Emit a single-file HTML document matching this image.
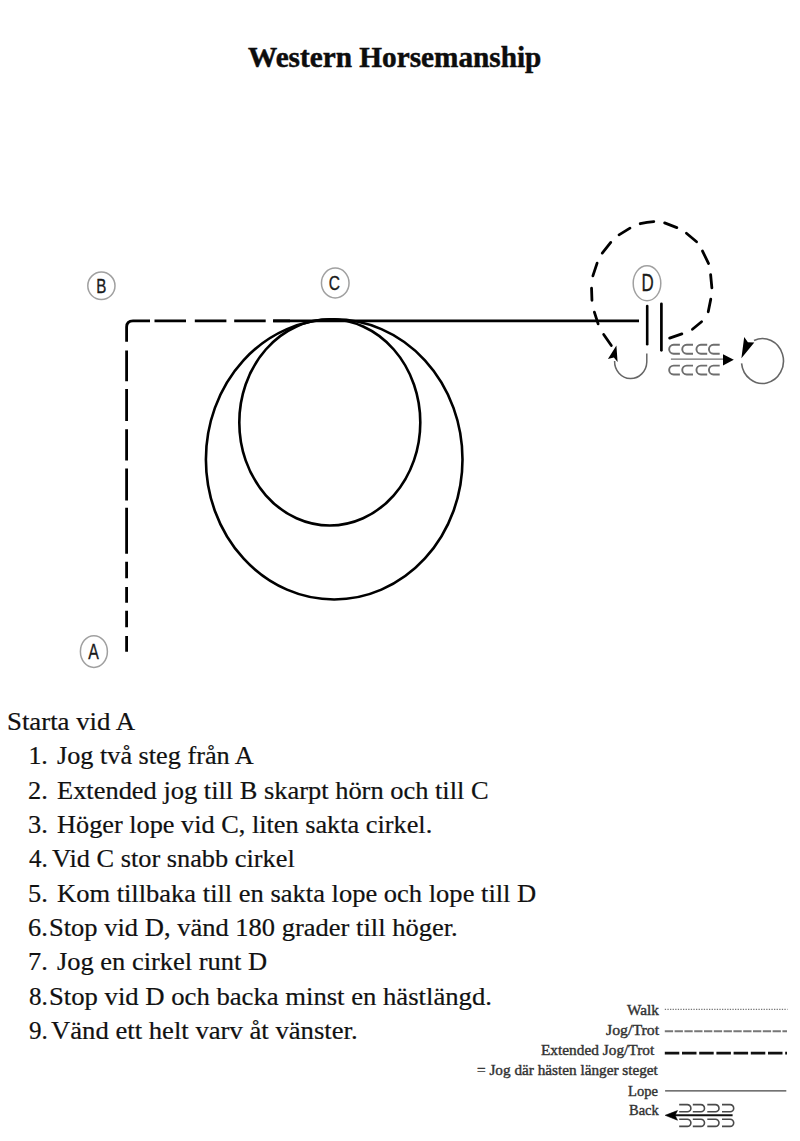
<!DOCTYPE html>
<html><head><meta charset="utf-8">
<style>
html,body{margin:0;padding:0;background:#fff;}
body{width:800px;height:1141px;overflow:hidden;position:relative;}
svg{position:absolute;left:0;top:0;}
.serif{font-family:"Liberation Serif",serif;}
.sans{font-family:"Liberation Sans",sans-serif;}
</style></head>
<body>
<svg width="800" height="1141" viewBox="0 0 800 1141">
  <!-- Letter markers -->
  <g fill="none" stroke="#a0a0a0" stroke-width="1.5">
    <ellipse cx="101.4" cy="285.8" rx="13.6" ry="13.7"/>
    <ellipse cx="335.25" cy="283" rx="13.8" ry="15"/>
    <ellipse cx="647" cy="283.25" rx="13.8" ry="17.5"/>
    <ellipse cx="93.9" cy="651.6" rx="13.5" ry="15.9"/>
  </g>
  <g class="sans" fill="#1a1a1a" stroke="#1a1a1a" stroke-width="0.35">
    <text font-size="20.5" transform="translate(96.2 293.3) scale(0.74 1)">B</text>
    <text font-size="21" transform="translate(328.8 289.8) scale(0.74 1)">C</text>
    <text font-size="23.5" transform="translate(641.6 290.6) scale(0.72 1)">D</text>
    <text font-size="21.5" transform="translate(88.2 658.6) scale(0.74 1)">A</text>
  </g>

  <!-- Main path A->B->C dashed -->
  <g fill="none" stroke="#000" stroke-width="2.8" stroke-linecap="butt">
    <path d="M126.6 341.8 V327 Q126.6 320.8 133 320.8 H150"/>
    <path d="M126.6 350.5 V381.2 M126.6 389 V420.9 M126.6 429.2 V460.6 M126.6 468.5 V500.4 M126.6 507.7 V553.7 M126.6 561.8 V578.3 M126.6 587 V602.8 M126.6 610.7 V627.2 M126.6 635.9 V651.7 M154.5 320.8 H186 M194.8 320.8 H226.4 M234.2 320.8 H265.7 M273.2 320.8 H290"/>
    <line x1="273" y1="320.8" x2="639" y2="320.8"/>
  </g>
  <!-- circles -->
  <g fill="none" stroke="#000" stroke-width="2.6">
    <ellipse cx="334.2" cy="459.4" rx="128.3" ry="140.1"/>
    <ellipse cx="329.8" cy="422.4" rx="90.5" ry="103.1"/>
  </g>

  <!-- D region -->
  <g fill="none" stroke="#000" stroke-width="2.8" stroke-linecap="round">
    <line x1="647.2" y1="306" x2="647.2" y2="344.3" stroke-width="2.6" stroke-linecap="round"/>
    <line x1="661.4" y1="303.8" x2="661.4" y2="350.3" stroke-width="2.7" stroke-linecap="round"/>
    <path d="M640.2 223.7 Q647 222 653.8 221.6"/>
    <path d="M619.02 234.87 L629.98 228.13"/>
    <path d="M602.25 253.06 L610.75 242.44"/>
    <path d="M592.88 275.86 L597.12 263.14"/>
    <path d="M591.54 288.20 L591.96 300.30"/>
    <path d="M594.37 312.14 L598.13 323.86"/>
    <path d="M603.68 334.49 L611.32 345.51"/>
    <path d="M664.62 222.93 L676.88 227.57"/>
    <path d="M686.42 233.27 L696.58 241.73"/>
    <path d="M702.52 251.08 L708.48 263.42"/>
    <path d="M710.62 274.69 L711.88 287.81"/>
    <path d="M710.76 299.18 L708.24 311.82"/>
    <path d="M701.57 321.76 L692.43 329.24"/>
    <path d="M681.87 333.89 L669.63 338.11"/>
  </g>
  <polygon points="616.4,345.6 607.9,359 613.9,357.6 617.6,362" fill="#000"/>
  <path d="M614.6 361 A16.1 17 0 0 0 646.8 362 V353.6" fill="none" stroke="#666" stroke-width="1.5"/>
  <!-- CCCC -->
  <g fill="none" stroke="#6e6e6e" stroke-width="1.9">
    <path id="cc" d="M679.9 344.8 H673.6 A4.45 4.45 0 0 0 673.6 353.7 H679.9"/>
    <use href="#cc" x="13.1"/><use href="#cc" x="27.3"/><use href="#cc" x="39.8"/>
    <use href="#cc" y="20.8"/><use href="#cc" x="13.1" y="20.8"/><use href="#cc" x="27.3" y="20.8"/><use href="#cc" x="39.8" y="20.8"/>
  </g>
  <line x1="670.9" y1="359.1" x2="724" y2="359.1" stroke="#707070" stroke-width="1.4"/>
  <polygon points="723,354.2 733.8,359.8 723,365.4" fill="#000"/>
  <path d="M754.00 340.49 A21.0 22.4 0 1 1 741.57 363.34" fill="none" stroke="#666" stroke-width="1.6"/>
  <polygon points="744.2,337.1 747.9,342.2 754.3,342.6 741.4,358.3" fill="#000"/>

  <text class="serif" x="248.00" y="66.50" font-size="30" textLength="293.34" lengthAdjust="spacingAndGlyphs" font-weight="bold" fill="#0d0d0d" stroke="#0d0d0d" stroke-width="0.5">Western Horsemanship</text>
  <text class="serif" x="7.00" y="730.00" font-size="24.5" textLength="128.05" lengthAdjust="spacingAndGlyphs" fill="#111" stroke="#111" stroke-width="0.2">Starta vid A</text>
  <text class="serif" x="28.40" y="763.90" font-size="24.5" textLength="19.47" lengthAdjust="spacingAndGlyphs" fill="#111" stroke="#111" stroke-width="0.2">1.</text>
  <text class="serif" x="57.00" y="763.90" font-size="24.5" textLength="196.72" lengthAdjust="spacingAndGlyphs" fill="#111" stroke="#111" stroke-width="0.2">Jog två steg från A</text>
  <text class="serif" x="28.00" y="798.90" font-size="24.5" textLength="19.77" lengthAdjust="spacingAndGlyphs" fill="#111" stroke="#111" stroke-width="0.2">2.</text>
  <text class="serif" x="57.00" y="798.90" font-size="24.5" textLength="431.62" lengthAdjust="spacingAndGlyphs" fill="#111" stroke="#111" stroke-width="0.2">Extended jog till B skarpt hörn och till C</text>
  <text class="serif" x="28.00" y="833.40" font-size="24.5" textLength="19.77" lengthAdjust="spacingAndGlyphs" fill="#111" stroke="#111" stroke-width="0.2">3.</text>
  <text class="serif" x="57.00" y="833.40" font-size="24.5" textLength="375.22" lengthAdjust="spacingAndGlyphs" fill="#111" stroke="#111" stroke-width="0.2">Höger lope vid C, liten sakta cirkel.</text>
  <text class="serif" x="29.00" y="867.10" font-size="24.5" textLength="18.77" lengthAdjust="spacingAndGlyphs" fill="#111" stroke="#111" stroke-width="0.2">4.</text>
  <text class="serif" x="52.00" y="867.10" font-size="24.5" textLength="242.71" lengthAdjust="spacingAndGlyphs" fill="#111" stroke="#111" stroke-width="0.2">Vid C stor snabb cirkel</text>
  <text class="serif" x="28.00" y="901.70" font-size="24.5" textLength="19.77" lengthAdjust="spacingAndGlyphs" fill="#111" stroke="#111" stroke-width="0.2">5.</text>
  <text class="serif" x="57.00" y="901.70" font-size="24.5" textLength="479.25" lengthAdjust="spacingAndGlyphs" fill="#111" stroke="#111" stroke-width="0.2">Kom tillbaka till en sakta lope och lope till D</text>
  <text class="serif" x="28.00" y="936.30" font-size="24.5" textLength="19.77" lengthAdjust="spacingAndGlyphs" fill="#111" stroke="#111" stroke-width="0.2">6.</text>
  <text class="serif" x="49.00" y="936.30" font-size="24.5" textLength="408.67" lengthAdjust="spacingAndGlyphs" fill="#111" stroke="#111" stroke-width="0.2">Stop vid D, vänd 180 grader till höger.</text>
  <text class="serif" x="28.00" y="970.40" font-size="24.5" textLength="19.77" lengthAdjust="spacingAndGlyphs" fill="#111" stroke="#111" stroke-width="0.2">7.</text>
  <text class="serif" x="57.00" y="970.40" font-size="24.5" textLength="210.09" lengthAdjust="spacingAndGlyphs" fill="#111" stroke="#111" stroke-width="0.2">Jog en cirkel runt D</text>
  <text class="serif" x="29.00" y="1005.30" font-size="24.5" textLength="18.77" lengthAdjust="spacingAndGlyphs" fill="#111" stroke="#111" stroke-width="0.2">8.</text>
  <text class="serif" x="49.00" y="1005.30" font-size="24.5" textLength="442.91" lengthAdjust="spacingAndGlyphs" fill="#111" stroke="#111" stroke-width="0.2">Stop vid D och backa minst en hästlängd.</text>
  <text class="serif" x="29.00" y="1038.60" font-size="24.5" textLength="18.77" lengthAdjust="spacingAndGlyphs" fill="#111" stroke="#111" stroke-width="0.2">9.</text>
  <text class="serif" x="51.00" y="1038.60" font-size="24.5" textLength="306.66" lengthAdjust="spacingAndGlyphs" fill="#111" stroke="#111" stroke-width="0.2">Vänd ett helt varv åt vänster.</text>
  <text class="serif" x="627.00" y="1014.50" font-size="14.2" textLength="31.84" lengthAdjust="spacingAndGlyphs" fill="#333" stroke="#333" stroke-width="0.4">Walk</text>
  <text class="serif" x="606.00" y="1035.00" font-size="14.2" textLength="53.08" lengthAdjust="spacingAndGlyphs" fill="#333" stroke="#333" stroke-width="0.4">Jog/Trot</text>
  <text class="serif" x="541.00" y="1055.00" font-size="14.2" textLength="113.20" lengthAdjust="spacingAndGlyphs" fill="#333" stroke="#333" stroke-width="0.4">Extended Jog/Trot</text>
  <text class="serif" x="477.00" y="1075.00" font-size="14.2" textLength="180.86" lengthAdjust="spacingAndGlyphs" fill="#333" stroke="#333" stroke-width="0.4">= Jog där hästen länger steget</text>
  <text class="serif" x="628.00" y="1095.50" font-size="14.2" textLength="29.91" lengthAdjust="spacingAndGlyphs" fill="#333" stroke="#333" stroke-width="0.4">Lope</text>
  <text class="serif" x="629.00" y="1115.00" font-size="14.2" textLength="29.66" lengthAdjust="spacingAndGlyphs" fill="#333" stroke="#333" stroke-width="0.4">Back</text>

  <!-- Legend lines -->
  <line x1="664.8" y1="1009.3" x2="787.5" y2="1009.3" stroke="#777" stroke-width="1.2" stroke-dasharray="1.3 1.3"/>
  <line x1="664.8" y1="1031.2" x2="787" y2="1031.2" stroke="#777" stroke-width="2" stroke-dasharray="8.3 1.5"/>
  <line x1="664.8" y1="1053.1" x2="787" y2="1053.1" stroke="#111" stroke-width="2.8" stroke-dasharray="14.5 2.7"/>
  <line x1="665.1" y1="1090.9" x2="786.3" y2="1090.9" stroke="#444" stroke-width="1.4"/>
  <g fill="none" stroke="#4a4a4a" stroke-width="1.6">
    <path id="dd" d="M679.2 1104.6 H687.3 A3.6 3.6 0 0 1 687.3 1111.8 H679.2"/>
    <use href="#dd" x="13.6"/><use href="#dd" x="28.1"/><use href="#dd" x="42.8"/>
    <use href="#dd" y="14.6"/><use href="#dd" x="13.6" y="14.6"/><use href="#dd" x="28.1" y="14.6"/><use href="#dd" x="42.8" y="14.6"/>
  </g>
  <line x1="674" y1="1115.3" x2="732.6" y2="1115.3" stroke="#111" stroke-width="1.9"/>
  <polygon points="665.2,1115.3 677.5,1110.6 675,1115.3 677.5,1120.2" fill="#000" stroke="#000" stroke-width="0.6"/>
</svg>
</body></html>
